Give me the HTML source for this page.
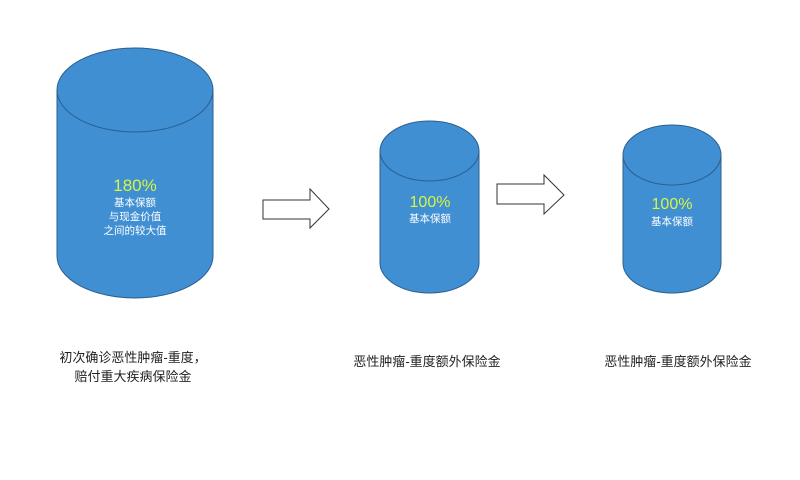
<!DOCTYPE html>
<html><head><meta charset="utf-8"><style>
html,body{margin:0;padding:0;background:#fff;}
svg{display:block}
text{font-family:"Liberation Sans","Noto Sans CJK SC",sans-serif;}
</style></head><body>
<svg width="800" height="480" viewBox="0 0 800 480" xmlns="http://www.w3.org/2000/svg">
<g fill="#408fd3" stroke="#2b5f8e" stroke-width="1">
<path d="M57,90 L57,256 A78,42 0 0 0 213,256 L213,90"/>
<ellipse cx="135" cy="90" rx="78" ry="42"/>
<path d="M380,151 L380,263 A49.5,30 0 0 0 479,263 L479,151"/>
<ellipse cx="429.5" cy="151" rx="49.5" ry="30"/>
<path d="M623,155 L623,263 A49,30 0 0 0 721,263 L721,155"/>
<ellipse cx="672" cy="155" rx="49" ry="30"/>
</g>
<g fill="#fff" stroke="#333" stroke-width="1">
<polygon points="263,200 310,200 310,189 329,209 310,228 310,219 263,219"/>
<polygon points="497,184 544,184 544,175 564,195 544,214 544,204 497,204"/>
</g>
<g text-anchor="middle">
<text x="135" y="191" font-size="17" fill="#d6f542">180%</text>
<text x="135" y="206" font-size="10.5" fill="#fff">基本保额</text>
<text x="135" y="220" font-size="10.5" fill="#fff">与现金价值</text>
<text x="135" y="234" font-size="10.5" fill="#fff">之间的较大值</text>
<text x="430" y="207" font-size="16" fill="#d6f542">100%</text>
<text x="430" y="222" font-size="10.5" fill="#fff">基本保额</text>
<text x="672" y="209" font-size="16" fill="#d6f542">100%</text>
<text x="672" y="225" font-size="10.5" fill="#fff">基本保额</text>
<text x="133" y="362" font-size="13" fill="#222">初次确诊恶性肿瘤-重度，</text>
<text x="133" y="381" font-size="13" fill="#222">赔付重大疾病保险金</text>
<text x="427" y="366" font-size="13" fill="#222">恶性肿瘤-重度额外保险金</text>
<text x="678" y="366" font-size="13" fill="#222">恶性肿瘤-重度额外保险金</text>
</g>
</svg>
</body></html>
